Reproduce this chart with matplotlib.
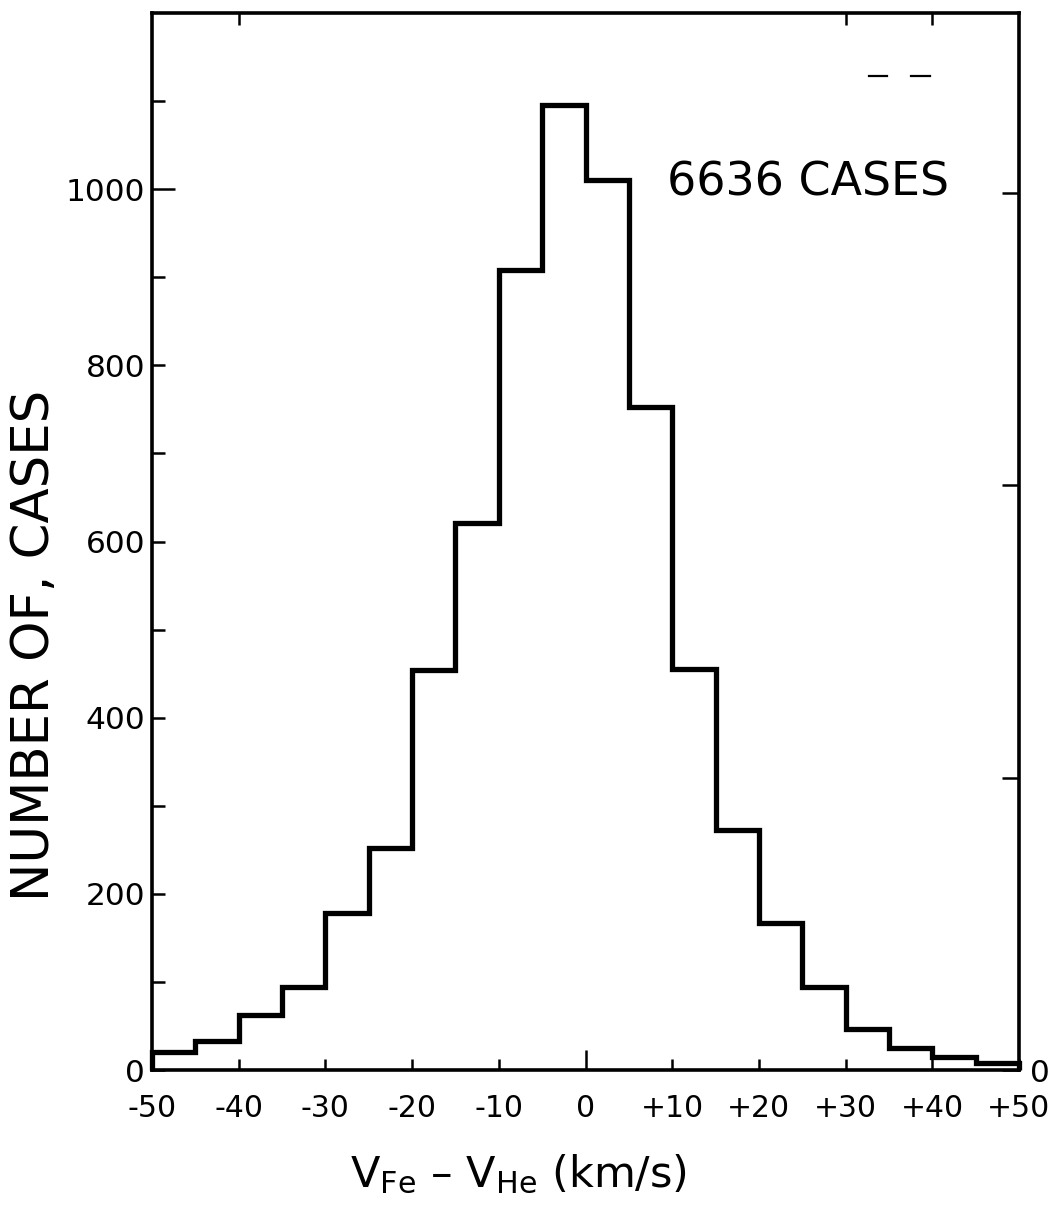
import matplotlib
matplotlib.use("Agg")
import matplotlib.pyplot as plt
import numpy as np

# Histogram of velocity differences, 5 km/s bins
bin_edges = [-50, -45, -40, -35, -30, -25, -20, -15, -10, -5, 0,
             5, 10, 15, 20, 25, 30, 35, 40, 45, 50]
counts = [20, 33, 62, 94, 178, 252, 454, 621, 908, 1095,
          1010, 753, 455, 272, 167, 94, 46, 25, 15, 8]
total_cases = 6636

x_ticks = [-50, -40, -30, -20, -10, 0, 10, 20, 30, 40, 50]
x_tick_labels = ["-50", "-40", "-30", "-20", "-10", "0",
                 "+10", "+20", "+30", "+40", "+50"]
y_ticks = [0, 200, 400, 600, 800, 1000]
y_tick_labels = ["0", "200", "400", "600", "800", "1000"]
y_minor_ticks = [100, 300, 500, 700, 900, 1100]
right_pct_ticks = [0, 5, 10, 15]
top_ticks = [-40, 30, 40]

plt.rcParams['font.family'] = ['DejaVu Sans']
plt.rcParams['mathtext.fontset'] = 'dejavusans'

W, H = 1057, 1223
fig = plt.figure(figsize=(W / 100, H / 100), dpi=100)
ax_left, ax_right_px, ax_top_px, ax_bot_px = 152, 1019, 13, 1070
ax = fig.add_axes([ax_left / W, 1 - ax_bot_px / H,
                   (ax_right_px - ax_left) / W, (ax_bot_px - ax_top_px) / H])

ymax = 1200
ax.stairs(counts, bin_edges, baseline=0, color='black', linewidth=3.8,
          clip_on=False, zorder=3)

ax.set_xlim(-50, 50)
ax.set_ylim(0, ymax)

for sp in ax.spines.values():
    sp.set_linewidth(2.6)

px = 72 / 100  # points per pixel
ax.set_xticks(x_ticks)
ax.set_xticklabels(x_tick_labels, fontsize=21.5)
ax.set_yticks(y_ticks)
ax.set_yticklabels(y_tick_labels, fontsize=22.5)
ax.set_yticks(y_minor_ticks, minor=True)
ax.tick_params(axis='x', which='major', direction='in', length=11 * px,
               width=1.8, pad=17)
ax.tick_params(axis='y', which='both', direction='in', length=13 * px,
               width=1.8, pad=5)
ax.tick_params(axis='y', which='minor', direction='in', length=13 * px,
               width=1.8)

# longer ticks at x = 0 and y = 1000
ax.xaxis.get_major_ticks()[5].tick1line.set_markersize(20 * px)
ax.yaxis.get_major_ticks()[5].tick1line.set_markersize(23 * px)

# right axis: percentage of all cases, only zero labelled
axr = ax.twinx()
axr.set_ylim(0, ymax * 100 / total_cases)
axr.set_yticks(right_pct_ticks)
axr.set_yticklabels(["0", "", "", ""], fontsize=22.5)
axr.tick_params(axis='y', direction='in', length=17 * px, width=1.8, pad=8)
for sp in axr.spines.values():
    sp.set_visible(False)

# a few ticks along the top edge
axt = ax.twiny()
axt.set_xlim(-50, 50)
axt.set_xticks(top_ticks)
axt.set_xticklabels([])
axt.tick_params(axis='x', direction='in', length=12 * px, width=1.8)
for sp in axt.spines.values():
    sp.set_visible(False)

ax.text(0.594, 0.827, f"{total_cases} CASES", transform=ax.transAxes,
        fontsize=33, ha='left', va='baseline')

# short dashes near the top right corner
for x0, x1 in [(0.827, 0.848), (0.875, 0.897)]:
    ax.plot([x0, x1], [0.94, 0.94], transform=ax.transAxes, color='black',
            linewidth=1.6, clip_on=False)

fig.text(35 / W, 1 - 645 / H, "NUMBER OF, CASES", rotation=90,
         fontsize=37, ha='center', va='center')
fig.text(518 / W, 1 - 1187 / H,
         r"$\mathregular{V_{Fe}}$ – $\mathregular{V_{He}}$ (km/s)",
         fontsize=31, ha='center', va='baseline')

fig.savefig("out.png", dpi=100, facecolor='white')
